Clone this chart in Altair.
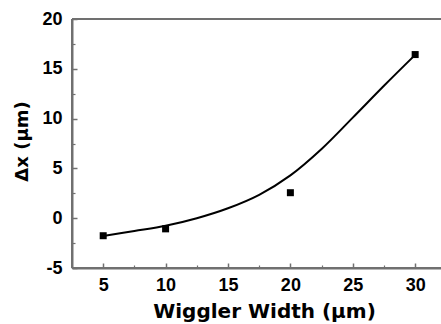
import altair as alt
import pandas as pd

# measured points
pts_x = [5, 10, 20, 30]
pts_y = [-1.76, -1.07, 2.56, 16.43]

# fitted curve
fit_x = [5, 7.5, 10, 12.5, 15, 17.5, 20, 22.5, 25, 27.5, 30]
fit_y = [-1.78, -1.28, -0.76, 0.0, 1.0, 2.35, 4.3, 6.95, 10.1, 13.3, 16.4]

x_major = [5, 10, 15, 20, 25, 30]
x_minor = [7.5, 12.5, 17.5, 22.5, 27.5]
y_major = [-5, 0, 5, 10, 15, 20]
y_minor = [-2.5, 2.5, 7.5, 12.5, 17.5]

x_range = [2.5, 32.07]
y_range = [-5, 20]

pts = pd.DataFrame({"w": pts_x, "dx": pts_y})
fit = pd.DataFrame({"w": fit_x, "dx": fit_y})

W, H = 369, 249
FONT = "Liberation Sans"
TFONT = "DejaVu Sans"
GRAY = "#707070"

xs = alt.Scale(domain=x_range, nice=False, zero=False)
ys = alt.Scale(domain=y_range, nice=False, zero=False)

curve = alt.Chart(fit).mark_line(color="black", strokeWidth=2, interpolate="catmull-rom").encode(
    x=alt.X("w:Q", scale=xs, axis=alt.Axis(
        orient="bottom", title="Wiggler Width (μm)", values=x_major, ticks=False,
        domainColor=GRAY, domainWidth=2, labelPadding=8, labelFont=FONT, labelFontSize=18,
        labelFontWeight="bold", labelColor="black", labelExpr="'' + datum.value",
        titleFont=TFONT, titleFontSize=20, titleFontWeight="bold", titleColor="black",
        titlePadding=7, titleX=192, grid=False, labelFlush=False, labelOverlap=False)),
    y=alt.Y("dx:Q", scale=ys, axis=alt.Axis(
        orient="left", title="Δx (μm)", values=y_major, ticks=False,
        domainColor=GRAY, domainWidth=2, labelPadding=10, labelFont=FONT, labelFontSize=18,
        labelFontWeight="bold", labelColor="black", labelExpr="'' + datum.value",
        titleFont=TFONT, titleFontSize=18, titleFontWeight="bold", titleColor="black",
        titlePadding=10, titleY=122, grid=False, labelFlush=False, labelOverlap=False)),
)

points = alt.Chart(pts).mark_point(shape="square", filled=True, size=49, color="black", opacity=1).encode(
    x=alt.X("w:Q", scale=xs, axis=alt.Axis(
        orient="top", offset=-H, values=x_major, tickSize=5, tickColor=GRAY, tickWidth=1.5,
        labels=False, domain=False, title=None, grid=False)),
    y=alt.Y("dx:Q", scale=ys, axis=alt.Axis(
        orient="right", offset=-W, values=y_major, tickSize=5, tickColor=GRAY, tickWidth=1.5,
        labels=False, domain=False, title=None, grid=False)),
)

minor = alt.Chart(pts).mark_point(opacity=0).encode(
    x=alt.X("w:Q", scale=xs, axis=alt.Axis(
        orient="top", offset=-H, values=x_minor, tickSize=3, tickColor=GRAY, tickWidth=1.2,
        labels=False, domain=False, title=None, grid=False)),
    y=alt.Y("dx:Q", scale=ys, axis=alt.Axis(
        orient="right", offset=-W, values=y_minor, tickSize=3, tickColor=GRAY, tickWidth=1.2,
        labels=False, domain=False, title=None, grid=False)),
)

# frame lines (left, bottom, top) drawn through the scales
left_edge = alt.Chart(pts).mark_rule(color=GRAY, strokeWidth=2).encode(
    x=alt.datum(x_range[0], scale=xs, axis=None))
bottom_edge = alt.Chart(pts).mark_rule(color=GRAY, strokeWidth=2).encode(
    y=alt.datum(y_range[0], scale=ys, axis=None))
top_edge = alt.Chart(pts).mark_rule(color=GRAY, strokeWidth=2).encode(
    y=alt.datum(y_range[1], scale=ys, axis=None))

chart = alt.layer(points, minor, left_edge, bottom_edge, top_edge, curve).resolve_axis(
    x="independent", y="independent"
).properties(
    width=W, height=H,
    autosize=alt.AutoSizeParams(type="none"),
    padding={"left": 72, "top": 19, "right": 0, "bottom": 324 - 19 - H},
    background="white",
).configure_view(stroke=None)

chart.save("out.html", embed_options={"renderer": "svg", "actions": False})
